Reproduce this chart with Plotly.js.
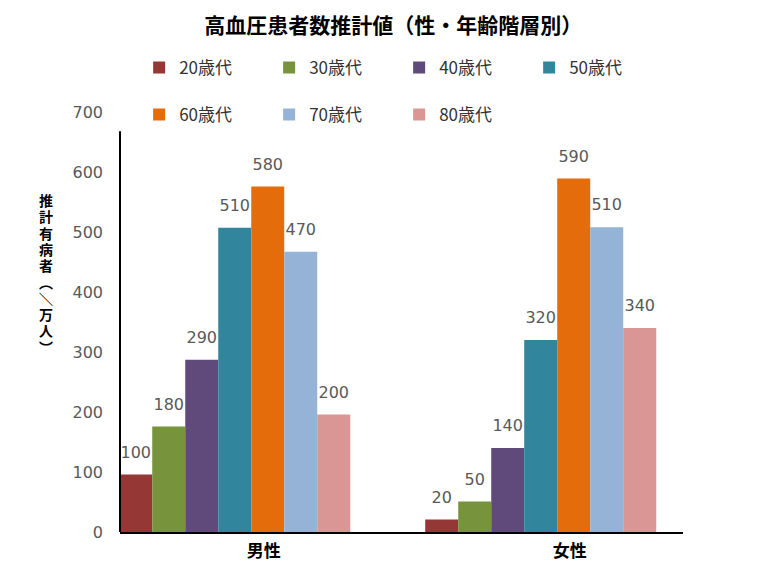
<!DOCTYPE html>
<html>
<head>
<meta charset="utf-8">
<script src="https://cdn.plot.ly/plotly-3.0.1.min.js"></script>
<style>body{margin:0;background:#fff}</style>
</head>
<body>
<div id="chart" style="width:768px;height:576px"></div>
<script>
// categories on the x axis and the age groups (one trace each)
var sexes = ['男性', '女性'];
var ageGroups = ['20歳代', '30歳代', '40歳代', '50歳代', '60歳代', '70歳代', '80歳代'];
var colors = ['#953735', '#77933C', '#604A7B', '#31859C', '#E46C0A', '#95B3D7', '#D99694'];

// bar heights (万人)
var menValues = [96, 176, 287, 507, 576, 467, 196];
var womenValues = [21, 51, 140, 320, 589, 508, 340];

// rounded numbers printed above the bars
var menLabels = [100, 180, 290, 510, 580, 470, 200];
var womenLabels = [20, 50, 140, 320, 590, 510, 340];

// vertical y axis title, one character per line
var yTitleChars = ['推', '計', '有', '病', '者', '\uFE35', '\uFF3C', '万', '人', '\uFE36'];

var jpFont = '"Noto Sans CJK JP", "Noto Sans", sans-serif';
var numFont = '"DejaVu Sans", Verdana, sans-serif';

var traces = [];
ageGroups.forEach(function(name, i) {
    traces.push({
        type: 'bar',
        x: sexes,
        y: [menValues[i], womenValues[i]],
        name: name,
        // first four entries in the upper legend row, the rest below
        legend: i < 4 ? 'legend' : 'legend2',
        marker: {color: colors[i]},
        hovertemplate: '%{x} ' + name + ': %{y}<extra></extra>'
    });
});

// invisible points grouped like the bars carry the value labels
ageGroups.forEach(function(name, i) {
    traces.push({
        type: 'scatter',
        mode: 'markers+text',
        x: sexes,
        y: [menValues[i], womenValues[i]],
        text: [menLabels[i], womenLabels[i]],
        textposition: 'top center',
        textfont: {family: numFont, size: 16, color: '#595959'},
        marker: {size: 19, opacity: 0},
        showlegend: false,
        hoverinfo: 'skip',
        cliponaxis: false
    });
});

// stacked characters of the y title (latin primary font keeps line boxes short)
var annotations = yTitleChars.map(function(ch, i) {
    return {
        text: ch,
        xref: 'paper', yref: 'paper',
        x: -0.131, y: 1,
        xanchor: 'center', yanchor: 'middle',
        yshift: -89 - i * 16.3,
        borderpad: 0,
        showarrow: false,
        font: {family: '"Liberation Sans", "Noto Sans CJK JP", sans-serif', size: 14, weight: 'bold', color: '#000'}
    };
});

var legendStyle = {
    orientation: 'h',
    xref: 'paper', yref: 'paper',
    xanchor: 'left', yanchor: 'middle',
    entrywidth: 85, entrywidthmode: 'pixels',
    font: {family: jpFont, size: 17, color: '#333'},
    bgcolor: 'rgba(0,0,0,0)'
};

var layout = {
    width: 768,
    height: 576,
    margin: {l: 120, r: 85, t: 112, b: 44},
    paper_bgcolor: '#fff',
    plot_bgcolor: '#fff',
    barmode: 'group',
    bargap: 0.245,
    bargroupgap: 0,
    scattermode: 'group',
    scattergap: 0.245,
    title: {
        text: '高血圧患者数推計値（性・年齢階層別）',
        xref: 'container', yref: 'container',
        x: 0.512, y: 0.955,
        xanchor: 'center', yanchor: 'middle',
        font: {family: jpFont, size: 21, weight: 'bold', color: '#000'}
    },
    legend: Object.assign({x: 0.034, y: 1.105}, legendStyle),
    legend2: Object.assign({x: 0.034, y: 0.993}, legendStyle),
    xaxis: {
        type: 'category',
        range: [-0.375, 1.465],
        showline: true,
        linecolor: '#000',
        linewidth: 2,
        ticks: '',
        showgrid: false,
        ticklabelshift: 29,
        ticklabelstandoff: 3,
        tickfont: {family: jpFont, size: 17, weight: 'bold', color: '#000'}
    },
    yaxis: {
        range: [0, 700],
        dtick: 100,
        showgrid: false,
        zeroline: false,
        showline: false,
        ticks: '',
        ticklabelstandoff: 16,
        tickfont: {family: numFont, size: 16, color: '#595959'}
    },
    shapes: [{
        type: 'line',
        xref: 'paper', yref: 'y',
        x0: 0, x1: 0, y0: 0, y1: 668,
        line: {color: '#000', width: 2}
    }],
    annotations: annotations
};

Plotly.newPlot('chart', traces, layout, {displayModeBar: false});
</script>
</body>
</html>
